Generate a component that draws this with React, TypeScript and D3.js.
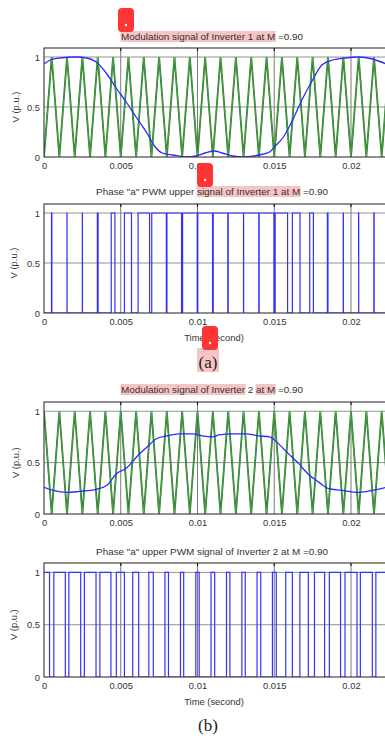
import React, { useEffect, useRef } from "react"
import * as d3 from "d3"

// axis ticks
const timeTicks = [0, 0.005, 0.01, 0.015, 0.02]
const timeTickLabels = ["0", "0.005", "0.01", "0.015", "0.02"]
const voltTicks = [0, 0.5, 1]
const voltTickLabels = ["0", "0.5", "1"]

// triangular carriers (vertices)
const carrierTimes = [
  0, 0.0005, 0.001, 0.0015, 0.002, 0.0025, 0.003, 0.0035, 0.004, 0.0045,
  0.005, 0.0055, 0.006, 0.0065, 0.007, 0.0075, 0.008, 0.0085, 0.009, 0.0095,
  0.01, 0.0105, 0.011, 0.0115, 0.012, 0.0125, 0.013, 0.0135, 0.014, 0.0145,
  0.015, 0.0155, 0.016, 0.0165, 0.017, 0.0175, 0.018, 0.0185, 0.019, 0.0195,
  0.02, 0.0205, 0.021, 0.0215, 0.022, 0.0225,
]
const carrier1Values = [
  0, 1, 0, 1, 0, 1, 0, 1, 0, 1,
  0, 1, 0, 1, 0, 1, 0, 1, 0, 1,
  0, 1, 0, 1, 0, 1, 0, 1, 0, 1,
  0, 1, 0, 1, 0, 1, 0, 1, 0, 1,
  0, 1, 0, 1, 0, 1,
]
const carrier2Values = [
  1, 0, 1, 0, 1, 0, 1, 0, 1, 0,
  1, 0, 1, 0, 1, 0, 1, 0, 1, 0,
  1, 0, 1, 0, 1, 0, 1, 0, 1, 0,
  1, 0, 1, 0, 1, 0, 1, 0, 1, 0,
  1, 0, 1, 0, 1, 0,
]

// modulation signal, inverter 1
const mod1Times = [
  0, 0.0004, 0.001, 0.0021, 0.0028, 0.0034, 0.0041, 0.0047, 0.0054, 0.006,
  0.0067, 0.0072, 0.0077, 0.0084, 0.0093, 0.0099, 0.0105, 0.0111, 0.0116, 0.0123,
  0.0129, 0.014, 0.0147, 0.015, 0.0156, 0.0162, 0.0168, 0.0175, 0.0181, 0.0188,
  0.0196, 0.0205, 0.0214, 0.0223,
]
const mod1Values = [
  0.93, 0.97, 0.99, 1.0, 0.99, 0.95, 0.83, 0.69, 0.54, 0.4,
  0.24, 0.11, 0.04, 0.02, 0.0, 0.01, 0.04, 0.06, 0.04, 0.01,
  0.0, 0.02, 0.05, 0.1, 0.2, 0.37, 0.57, 0.77, 0.92, 0.97,
  0.99, 1.0, 0.98, 0.93,
]

// modulation signal, inverter 2
const mod2Times = [
  0, 0.0006, 0.0015, 0.0023, 0.0034, 0.0041, 0.0047, 0.0054, 0.006, 0.0067,
  0.0073, 0.008, 0.0088, 0.0097, 0.0103, 0.011, 0.0114, 0.0123, 0.0131, 0.014,
  0.0147, 0.0153, 0.0159, 0.0166, 0.0172, 0.0179, 0.0185, 0.0194, 0.0205, 0.0214,
  0.0223,
]
const mod2Values = [
  0.26, 0.23, 0.21, 0.22, 0.24, 0.28, 0.39, 0.45, 0.55, 0.65,
  0.73, 0.76, 0.78, 0.78, 0.76, 0.75, 0.77, 0.78, 0.78, 0.76,
  0.75, 0.68, 0.59, 0.49, 0.39, 0.31, 0.25, 0.23, 0.21, 0.23,
  0.26,
]

// PWM pulses [rise, fall]
const pwm1Pulses = [
  [0.000488, 0.000513], [0.001497, 0.001503], [0.002497, 0.002503], [0.003475, 0.003525],
  [0.00438, 0.00462], [0.00524, 0.0057], [0.00613, 0.00688], [0.00702, 0.00797],
  [0.00801, 0.00896], [0.00903, 0.00998], [0.01002, 0.01098], [0.011025, 0.011975],
  [0.012003, 0.012997], [0.013005, 0.013995], [0.01402, 0.01498], [0.01506, 0.01587],
  [0.01618, 0.01668], [0.01731, 0.01755], [0.01846, 0.0185], [0.019495, 0.019505],
  [0.020497, 0.020503], [0.02149, 0.02151],
]
const pwm2Pulses = [
  [0, 0.00036], [0.00064, 0.00139], [0.00162, 0.00239], [0.00263, 0.00339],
  [0.00364, 0.00436], [0.00471, 0.00524], [0.00578, 0.00617], [0.00683, 0.00712],
  [0.00788, 0.00811], [0.00889, 0.0091], [0.00989, 0.01011], [0.01088, 0.01112],
  [0.01189, 0.01211], [0.01289, 0.01311], [0.01388, 0.01412], [0.01488, 0.01513],
  [0.01575, 0.01618], [0.01667, 0.01722], [0.01762, 0.01828], [0.01859, 0.01932],
  [0.01961, 0.02039], [0.02061, 0.02139], [0.02162, 0.02238],
]

const W = 385
const H = 736
const FONT = "'Liberation Sans', Arial, sans-serif"

const App = () => {
  const ref = useRef(null)

  useEffect(() => {
    const svg = d3.select(ref.current)
    svg.selectAll("*").remove()

    const x = d3.scaleLinear().domain([0, 0.0223]).range([44, 386.3])

    const panel = (opts) => {
      const { id, top, bottom, title, highlights, showXLabel } = opts
      const y = d3.scaleLinear().domain([0, 1.09]).range([bottom, top])
      const g = svg.append("g")

      g.append("clipPath").attr("id", id)
        .append("rect")
        .attr("x", x(0)).attr("y", top)
        .attr("width", x(0.0223) - x(0)).attr("height", bottom - top)

      // title with pink marker highlights
      const hl = g.append("g")
      const t = g.append("text")
        .attr("x", 212).attr("y", opts.titleY)
        .attr("text-anchor", "middle")
        .attr("font-family", FONT).attr("font-size", 9.9)
        .attr("fill", "#333")
        .text(title)
      const node = t.node()
      const bb = node.getBBox()
      highlights.forEach(([a, b]) => {
        const x0 = bb.x + (a > 0 ? node.getSubStringLength(0, a) : 0)
        const w = node.getSubStringLength(a, b - a)
        hl.append("rect")
          .attr("x", x0 - 0.5).attr("y", bb.y)
          .attr("width", w + 1).attr("height", bb.height)
          .attr("fill", "#f6c4c4")
      })

      // grid
      g.append("g").selectAll("line")
        .data(timeTicks.slice(1))
        .enter().append("line")
        .attr("x1", d => x(d)).attr("x2", d => x(d))
        .attr("y1", top).attr("y2", bottom)
        .attr("stroke", "#555").attr("stroke-width", 0.8)
      g.append("g").selectAll("line")
        .data(voltTicks.slice(1))
        .enter().append("line")
        .attr("x1", x(0)).attr("x2", x(0.0223))
        .attr("y1", d => y(d)).attr("y2", d => y(d))
        .attr("stroke", "#777").attr("stroke-width", 0.8)

      const plot = g.append("g").attr("clip-path", `url(#${id})`)
      opts.draw(plot, y)

      // frame
      g.append("rect")
        .attr("x", x(0)).attr("y", top)
        .attr("width", x(0.0223) - x(0)).attr("height", bottom - top)
        .attr("fill", "none").attr("stroke", "#333").attr("stroke-width", 1.1)
      g.append("g").selectAll("line")
        .data(timeTicks.slice(1))
        .enter().append("line")
        .attr("x1", d => x(d)).attr("x2", d => x(d))
        .attr("y1", top).attr("y2", top + 3)
        .attr("stroke", "#111").attr("stroke-width", 1.1)

      // axes
      const xAxisG = g.append("g")
        .attr("transform", `translate(0, ${bottom})`)
        .call(d3.axisBottom(x).tickValues(timeTicks)
          .tickFormat((d, i) => timeTickLabels[i]).tickSize(0).tickPadding(5))
      xAxisG.select(".domain").remove()
      xAxisG.selectAll("text")
        .attr("font-family", FONT).attr("font-size", 9.4).attr("fill", "#333")

      const yAxisG = g.append("g")
        .attr("transform", `translate(${x(0)}, 0)`)
        .call(d3.axisLeft(y).tickValues(voltTicks)
          .tickFormat((d, i) => voltTickLabels[i]).tickSize(0).tickPadding(4))
      yAxisG.select(".domain").remove()
      yAxisG.selectAll("text")
        .attr("font-family", FONT).attr("font-size", 9.4).attr("fill", "#333")

      g.append("text")
        .attr("transform", `translate(${opts.yLabelX}, ${y(0.5)}) rotate(-90)`)
        .attr("text-anchor", "middle")
        .attr("font-family", FONT).attr("font-size", 9.4).attr("fill", "#333")
        .text("V (p.u.)")

      if (showXLabel) {
        g.append("text")
          .attr("x", 214).attr("y", bottom + 28)
          .attr("text-anchor", "middle")
          .attr("font-family", FONT).attr("font-size", 9.4).attr("fill", "#333")
          .text("Time (second)")
      }
    }

    const drawCarrier = (plot, y, values) => {
      const line = d3.line()
        .x((d, i) => x(carrierTimes[i]))
        .y(d => y(d))
      plot.append("path").attr("d", line(values))
        .attr("fill", "none").attr("stroke", "#1f7a1f").attr("stroke-width", 1.8)
      plot.append("path").attr("d", line(values))
        .attr("fill", "none").attr("stroke", "#78b878").attr("stroke-width", 0.5)
    }

    const drawMod = (plot, y, times, values) => {
      const line = d3.line()
        .x((d, i) => x(times[i]))
        .y(d => y(d))
        .curve(d3.curveMonotoneX)
      plot.append("path").attr("d", line(values))
        .attr("fill", "none").attr("stroke", "#2a2aff").attr("stroke-width", 1.3)
    }

    const drawPwm = (plot, y, pulses) => {
      const pts = []
      if (pulses[0][0] > 0) pts.push([0, 0])
      pulses.forEach(([r, f]) => {
        pts.push([r, 1])
        pts.push([f, 0])
      })
      pts.push([0.0223, pts[pts.length - 1][1]])
      const line = d3.line()
        .x(d => x(d[0]))
        .y(d => y(d[1]))
        .curve(d3.curveStepAfter)
      plot.append("path").attr("d", line(pts))
        .attr("fill", "none").attr("stroke", "#3333ff").attr("stroke-width", 1.2)
    }

    panel({
      id: "c1", top: 48, bottom: 157, titleY: 40, yLabelX: 19,
      title: "Modulation signal of Inverter 1 at M =0.90",
      highlights: [[0, 36]],
      draw: (p, y) => { drawCarrier(p, y, carrier1Values); drawMod(p, y, mod1Times, mod1Values) },
    })
    panel({
      id: "c2", top: 204, bottom: 313, titleY: 195, yLabelX: 17, showXLabel: true,
      title: "Phase \"a\" PWM upper signal of Inverter 1 at M =0.90",
      highlights: [[20, 45]],
      draw: (p, y) => drawPwm(p, y, pwm1Pulses),
    })
    panel({
      id: "c3", top: 402, bottom: 514, titleY: 393, yLabelX: 19,
      title: "Modulation signal of Inverter 2 at M =0.90",
      highlights: [[0, 29], [32, 36]],
      draw: (p, y) => { drawCarrier(p, y, carrier2Values); drawMod(p, y, mod2Times, mod2Values) },
    })
    panel({
      id: "c4", top: 563, bottom: 677, titleY: 555, yLabelX: 17, showXLabel: true,
      title: "Phase \"a\" upper PWM signal of Inverter 2 at M =0.90",
      highlights: [],
      draw: (p, y) => drawPwm(p, y, pwm2Pulses),
    })

    // sub-figure captions
    svg.append("rect").attr("x", 197).attr("y", 348).attr("width", 22).attr("height", 24)
      .attr("fill", "#f6c4c4")
    svg.append("text").attr("x", 208).attr("y", 368).attr("text-anchor", "middle")
      .attr("font-family", "'Liberation Serif', 'Times New Roman', serif").attr("font-size", 17)
      .attr("fill", "#222").text("(a)")
    svg.append("text").attr("x", 208).attr("y", 731).attr("text-anchor", "middle")
      .attr("font-family", "'Liberation Serif', 'Times New Roman', serif").attr("font-size", 17)
      .attr("fill", "#222").text("(b)")

    // red annotation markers
    const markers = [[118, 8], [197, 163], [202, 326]]
    markers.forEach(([mx, my]) => {
      svg.append("rect").attr("x", mx).attr("y", my).attr("width", 16).attr("height", 24)
        .attr("rx", 4).attr("fill", "#ff3535")
      svg.append("circle").attr("cx", mx + 8).attr("cy", my + 17).attr("r", 1.2)
        .attr("fill", "#fff")
    })
  }, [])

  return (
    <div style={{ position: "fixed", left: 0, top: 0, width: W, height: H, background: "#fff" }}>
      <svg ref={ref} width={W} height={H} style={{ display: "block" }} />
    </div>
  )
}

export default App
